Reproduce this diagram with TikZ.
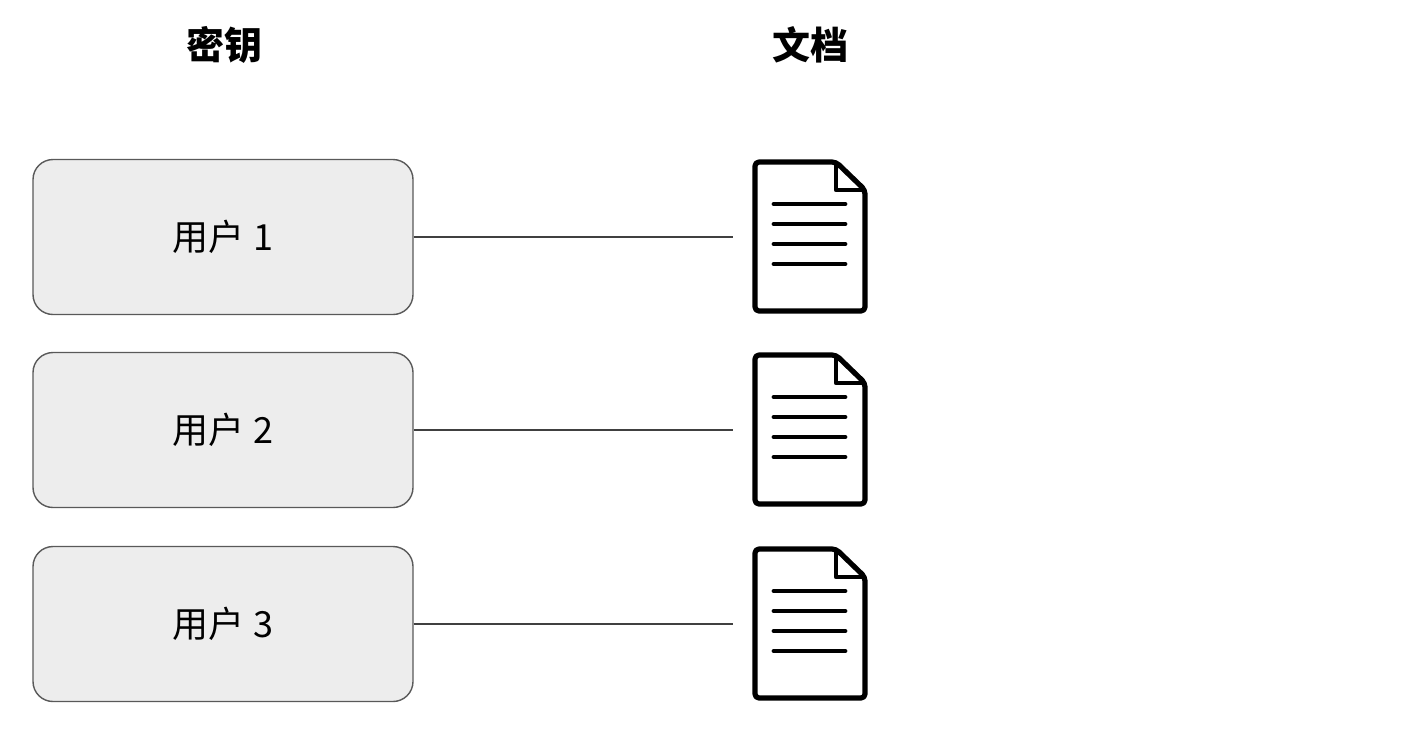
\documentclass[tikz,border=0pt]{standalone}
\usepackage{fontspec}
\setmainfont{Liberation Sans}
\newfontfamily\cjk{Noto Sans CJK SC}
\begin{document}
\begin{tikzpicture}[x=0.5pt,y=-0.5pt,
  user/.style={draw=black!65,fill=black!7,rounded corners=10pt,line width=0.7pt,minimum width=190pt,minimum height=77.5pt,font=\cjk\fontsize{18}{22}\selectfont},
  hdr/.style={font=\cjk\bfseries\fontsize{19}{23}\selectfont},
  doc/.style={minimum width=55.5pt,minimum height=75.5pt,inner sep=0pt},
  link/.style={draw=black!75,line width=0.6pt}]
\useasboundingbox (0,0) rectangle (1427,736);
\node[hdr] (h1) at (224,45) {密钥};
\node[hdr] (h2) at (810,45) {文档};
\foreach \i/\y in {1/237,2/430,3/624}{
  \node[user] (u\i) at (223,\y) {用户 \i};
  \node[doc] (d\i) at (810.5,\y) {};
  \draw[line width=2.6pt,line join=round,rounded corners=2pt]
    (755,\y-75) -- (836,\y-75) -- (865,\y-47) -- (865,\y+74) -- (755,\y+74) -- cycle;
  \draw[line width=2.4pt,line join=round] (836,\y-75) -- (836,\y-47) -- (865,\y-47);
  \foreach \k in {0,1,2,3}
    \draw[line width=2.4pt,line cap=round] (774,\y-33+20*\k) -- (845,\y-33+20*\k);
  \draw[link] (u\i.east) -- ([xshift=-11pt]d\i.west);
}
\end{tikzpicture}
\end{document}
